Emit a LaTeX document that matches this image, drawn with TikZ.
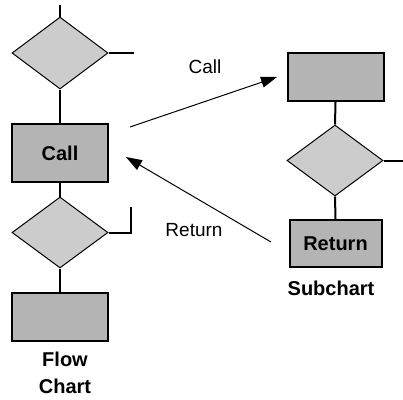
\documentclass[tikz,border=0pt]{standalone}
\usepackage{fontspec}
\setmainfont{Liberation Sans}
\usetikzlibrary{shapes.geometric,arrows.meta}
\definecolor{boxgray}{HTML}{B4B4B4}
\definecolor{diagray}{HTML}{CCCCCC}
\begin{document}
\begin{tikzpicture}[x=1pt,y=-1pt,
  procbox/.style={draw=black,line width=2pt,fill=boxgray,rectangle,inner sep=0pt,minimum width=#1,minimum height=48pt,font=\fontsize{20}{24}\selectfont\bfseries},
  procbox/.default=96pt,
  decision/.style={draw=black,line width=1pt,fill=diagray,diamond,inner sep=0pt,minimum width=96pt,minimum height=72pt},
  conn/.style={line width=2pt},
  flowarrow/.style={line width=1pt,-{Triangle[length=16pt,width=11pt]}},
  lbl/.style={font=\fontsize{19}{23}\selectfont,anchor=base,inner sep=0pt},
  blbl/.style={font=\fontsize{20}{24}\selectfont\bfseries,anchor=base,inner sep=0pt}]
\useasboundingbox (0,0) rectangle (403,399);
% left flow chart
\coordinate (topin) at (60,5);
\node[decision] (d1) at (60,53) {};
\coordinate (d1out) at (134,53);
\node[procbox,minimum height=58pt] (call) at (60,153) {Call};
\node[decision,minimum height=71pt] (d2) at (60,232.5) {};
\coordinate (d2c) at (131,232.5);
\coordinate (d2up) at (131,207);
\node[procbox] (end) at (60,317) {};
\node[blbl] (flow) at (65,366) {Flow};
\node[blbl] (chart) at (65,393) {Chart};
\draw[conn] (topin) -- (d1.north);
\draw[conn] (d1.east) -- (d1out);
\draw[conn] (d1.south) -- (call.north);
\draw[conn] (call.south) -- (d2.north);
\draw[conn] (d2.east) -- (d2c) -- (d2up);
\draw[conn] (d2.south) -- (end.north);
% subchart
\node[procbox] (s1) at (335.5,77) {};
\node[decision,minimum height=71pt] (sd) at (335,160.5) {};
\coordinate (sdout) at (403,160.5);
\node[procbox,minimum width=92pt,minimum height=47pt] (ret) at (335.5,243.5) {Return};
\node[blbl] (sub) at (331,295) {Subchart};
\draw[conn] (s1.south) -- (sd.north);
\draw[conn] (sd.east) -- (sdout);
\draw[conn] (sd.south) -- (ret.north);
% call / return arrows
\coordinate (cs) at (130,127);
\coordinate (ce) at (277,77);
\coordinate (rs) at (271,242);
\coordinate (re) at (126,157);
\draw[flowarrow] (cs) -- (ce);
\draw[flowarrow] (rs) -- (re);
\node[lbl] (calllbl) at (205,73) {Call};
\node[lbl] (retlbl) at (194,236) {Return};
\end{tikzpicture}
\end{document}
